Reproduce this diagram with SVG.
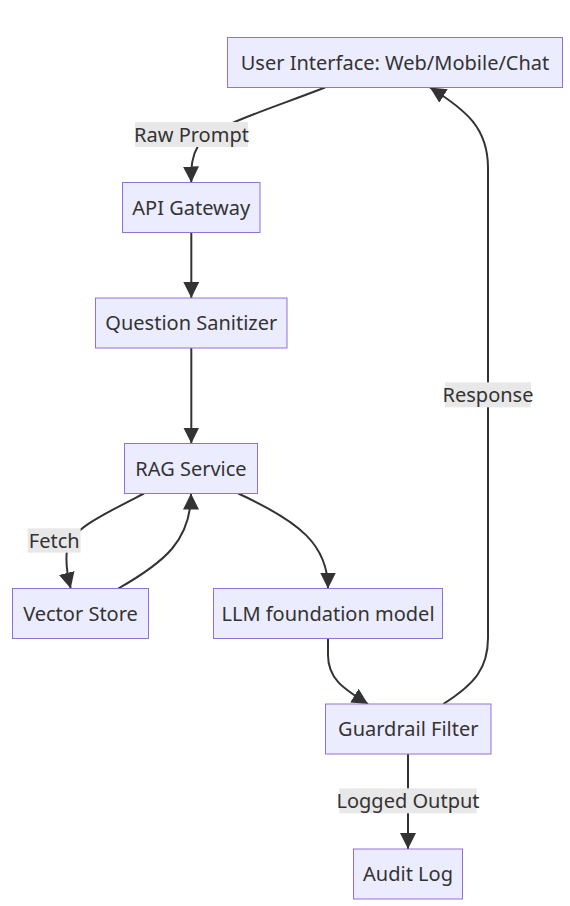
<svg xmlns="http://www.w3.org/2000/svg" width="570" height="906" viewBox="0 0 570 906">
<style>
.node rect{fill:#ECECFF;stroke:#9370DB;stroke-width:1}
text{font-family:"Noto Sans","DejaVu Sans",sans-serif;font-size:20px;fill:#333;text-anchor:middle}
.edge{fill:none;stroke:#333;stroke-width:2}
.lbl{fill:#e8e8e8}
</style>
<defs>
<marker id="arr" viewBox="0 0 10 10" refX="10" refY="5" markerUnits="userSpaceOnUse" markerWidth="16" markerHeight="16" orient="auto">
<path d="M0,0 L10,5 L0,10 z" fill="#333"/>
</marker>
</defs>
<rect width="570" height="906" fill="#fff"/>
<g id="connectors">
<path class="edge" d="M325,87.5 C262,112 212,126 198,146 C192,156 191,166 191.3,182.5" marker-end="url(#arr)"/>
<path class="edge" d="M191.3,232.5 L191.3,298" marker-end="url(#arr)"/>
<path class="edge" d="M191.3,348 L191.3,443.5" marker-end="url(#arr)"/>
<path class="edge" d="M144,493.5 C100,516 70,530 67,550 C65,565 68,578 70.7,588.5" marker-end="url(#arr)"/>
<path class="edge" d="M118.3,588.5 C165,562 191,540 191,493.5" marker-end="url(#arr)"/>
<path class="edge" d="M238.3,493.5 C300,522 328,545 328,588.5" marker-end="url(#arr)"/>
<path class="edge" d="M328,638.5 L328,655 C328,678 342,688 368,704" marker-end="url(#arr)"/>
<path class="edge" d="M443.3,704 C475,684 488,668 488,638 L488,168 C488,128 466,110 430,87.5" marker-end="url(#arr)"/>
<path class="edge" d="M408,754 L408,849" marker-end="url(#arr)"/>
<g id="edge-labels">
<rect class="lbl" x="135" y="122" width="113" height="25"/>
<text x="191.5" y="141.7">Raw Prompt</text>
<rect class="lbl" x="27.7" y="528.3" width="53" height="24.4"/>
<text x="54.2" y="548">Fetch</text>
<rect class="lbl" x="445" y="382.3" width="86" height="25"/>
<text x="488" y="402">Response</text>
<rect class="lbl" x="339.3" y="788.3" width="137.4" height="25"/>
<text x="408" y="808">Logged Output</text>
</g>
</g>
<g id="ui" class="node"><rect x="227.5" y="37.5" width="335" height="50"/><text x="395" y="69.5">User Interface: Web/Mobile/Chat</text></g>
<g id="api" class="node"><rect x="122.5" y="182.5" width="137.5" height="50"/><text x="191.3" y="214.5">API Gateway</text></g>
<g id="sanitizer" class="node"><rect x="95.5" y="298" width="191.5" height="50"/><text x="191.3" y="330">Question Sanitizer</text></g>
<g id="rag" class="node"><rect x="124.5" y="443.5" width="133" height="50"/><text x="191" y="475.5">RAG Service</text></g>
<g id="vector" class="node"><rect x="12.5" y="588.5" width="136" height="50"/><text x="80.5" y="620.5">Vector Store</text></g>
<g id="llm" class="node"><rect x="213.5" y="588.5" width="229" height="50"/><text x="328" y="620.5">LLM foundation model</text></g>
<g id="guardrail" class="node"><rect x="325.5" y="704" width="165.5" height="50"/><text x="408.3" y="736">Guardrail Filter</text></g>
<g id="audit" class="node"><rect x="353.5" y="849" width="109" height="50"/><text x="408" y="881">Audit Log</text></g>
</svg>
